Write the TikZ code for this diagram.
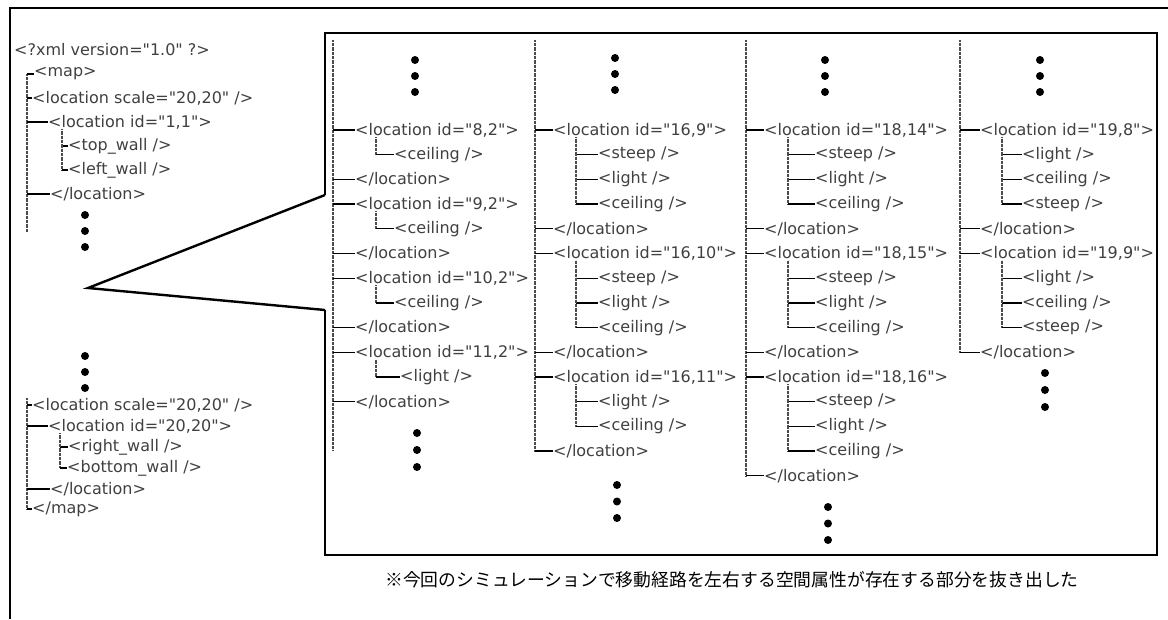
\documentclass[tikz,border=0pt]{standalone}
\usepackage{fontspec}
\newfontfamily\tagfont{DejaVu Sans}
\newfontfamily\jpfont{Noto Sans CJK JP}
\tikzset{
  tag/.style={font={\tagfont\fontsize{16}{18}\selectfont}, anchor=west, inner sep=0pt, text=black!75},
  vline/.style={line width=1.2pt, black!70, dash pattern=on 0.8pt off 0.5pt},
  branch/.style={line width=1.3pt, black},
  bigdot/.style={circle, fill=black, inner sep=0pt, minimum size=8pt},
  frame/.style={line width=2.4pt, black},
  caption/.style={font={\jpfont\fontsize{17.8}{20}\selectfont}, anchor=west, inner sep=0pt},
}
\newcommand\tg[4]{\node[tag] (#1) at (#2,{130+24.7*#3}) {#4};}
\newcommand\kid[3]{\draw[vline] (#1 |- #2.south) -- (#1 |- #3.west); \draw[branch] (#1 |- #3.west) -- (#3.west);}
\newcommand\br[2]{\draw[branch] (#1 |- #2.west) -- (#2.west);}
\newcommand\dotcol[4]{\node[bigdot] (#1a) at (#2,#3) {}; \node[bigdot] (#1b) at (#2,{#3+#4}) {}; \node[bigdot] (#1c) at (#2,{#3+2*#4}) {};}
\begin{document}
\begin{tikzpicture}[x=1pt,y=-1pt]
\useasboundingbox (0,0) rectangle (1168,619);
% outer frame
\coordinate (oBL) at (10,619);
\coordinate (oTL) at (10,8);
\coordinate (oTR) at (1168,8);
\draw[line width=1.8pt] (oBL) -- (oTL) -- (oTR);
% inner box and callout
\coordinate (bU) at (325,195);
\coordinate (bTL) at (325,33);
\coordinate (bTR) at (1157,33);
\coordinate (bBR) at (1157,555);
\coordinate (bBL) at (325,555);
\coordinate (bL) at (325,310);
\coordinate (apex) at (88,288);
\draw[frame] (bU) -- (bTL) -- (bTR) -- (bBR) -- (bBL) -- (bL);
\draw[frame] (bU) -- (apex) -- (bL);

% ---------- left top tree ----------
\node[tag] (xml) at (14,50) {<?xml version="1.0" ?>};
\node[tag] (map) at (34,74) {<map>};
\node[tag] (sc1) at (32,98) {<location scale="20,20" />};
\node[tag] (id1) at (48,122) {<location id="1,1">};
\node[tag] (tw) at (68,146) {<top\_wall />};
\node[tag] (lw) at (68,170) {<left\_wall />};
\node[tag] (el1) at (50,194) {</location>};
\coordinate (lv) at (27,232);
\draw[vline] (lv |- map.west) -- (lv);
\br{lv}{map}\br{lv}{sc1}\br{lv}{id1}\br{lv}{el1}
\coordinate (lk) at (62,0);
\kid{lk}{id1}{tw}\kid{lk}{id1}{lw}
\dotcol{ld1}{85}{215}{16}

% ---------- left bottom tree ----------
\dotcol{ld2}{85}{356}{16}
\node[tag] (sc2) at (32,405) {<location scale="20,20" />};
\node[tag] (id2) at (48,426) {<location id="20,20">};
\node[tag] (rw) at (68,447) {<right\_wall />};
\node[tag] (bw) at (67,468) {<bottom\_wall />};
\node[tag] (el2) at (50,489) {</location>};
\node[tag] (emap) at (32,509) {</map>};
\coordinate (lv2) at (27,398);
\draw[vline] (lv2) -- (lv2 |- emap.west);
\br{lv2}{sc2}\br{lv2}{id2}\br{lv2}{el2}\br{lv2}{emap}
\coordinate (lk2) at (60,0);
\kid{lk2}{id2}{rw}\kid{lk2}{id2}{bw}

% ---------- column 1 ----------
\coordinate (v1) at (333,40);
\coordinate (v1e) at (333,450);
\draw[vline] (v1) -- (v1e);
\dotcol{t1}{415}{60}{16}
\tg{a0}{355}{0}{<location id="8,2">}
\tg{a1}{394}{1}{<ceiling />}
\tg{a2}{355}{2}{</location>}
\tg{a3}{355}{3}{<location id="9,2">}
\tg{a4}{394}{4}{<ceiling />}
\tg{a5}{355}{5}{</location>}
\tg{a6}{355}{6}{<location id="10,2">}
\tg{a7}{394}{7}{<ceiling />}
\tg{a8}{355}{8}{</location>}
\tg{a9}{355}{9}{<location id="11,2">}
\tg{a10}{400}{10}{<light />}
\tg{a11}{355}{11}{</location>}
\foreach \n in {a0,a2,a3,a5,a6,a8,a9,a11} {\br{v1}{\n}}
\coordinate (k1) at (376,0);
\kid{k1}{a0}{a1}\kid{k1}{a3}{a4}\kid{k1}{a6}{a7}\kid{k1}{a9}{a10}
\dotcol{u1}{417}{433}{17}

% ---------- column 2 ----------
\coordinate (v2) at (535,40);
\dotcol{t2}{615}{58}{16}
\tg{b0}{553}{0}{<location id="16,9">}
\tg{b1}{598}{1}{<steep />}
\tg{b2}{598}{2}{<light />}
\tg{b3}{598}{3}{<ceiling />}
\tg{b4}{553}{4}{</location>}
\tg{b5}{553}{5}{<location id="16,10">}
\tg{b6}{598}{6}{<steep />}
\tg{b7}{598}{7}{<light />}
\tg{b8}{598}{8}{<ceiling />}
\tg{b9}{553}{9}{</location>}
\tg{b10}{553}{10}{<location id="16,11">}
\tg{b11}{598}{11}{<light />}
\tg{b12}{598}{12}{<ceiling />}
\tg{b13}{553}{13}{</location>}
\draw[vline] (v2) -- (v2 |- b13.west);
\foreach \n in {b0,b4,b5,b9,b10,b13} {\br{v2}{\n}}
\coordinate (k2) at (576,0);
\kid{k2}{b0}{b1}\kid{k2}{b0}{b2}\kid{k2}{b0}{b3}
\kid{k2}{b5}{b6}\kid{k2}{b5}{b7}\kid{k2}{b5}{b8}
\kid{k2}{b10}{b11}\kid{k2}{b10}{b12}
\dotcol{u2}{617}{485}{16.5}

% ---------- column 3 ----------
\coordinate (v3) at (746,40);
\dotcol{t3}{825}{60}{16}
\tg{c0}{764}{0}{<location id="18,14">}
\tg{c1}{815}{1}{<steep />}
\tg{c2}{815}{2}{<light />}
\tg{c3}{815}{3}{<ceiling />}
\tg{c4}{764}{4}{</location>}
\tg{c5}{764}{5}{<location id="18,15">}
\tg{c6}{815}{6}{<steep />}
\tg{c7}{815}{7}{<light />}
\tg{c8}{815}{8}{<ceiling />}
\tg{c9}{764}{9}{</location>}
\tg{c10}{764}{10}{<location id="18,16">}
\tg{c11}{815}{11}{<steep />}
\tg{c12}{815}{12}{<light />}
\tg{c13}{815}{13}{<ceiling />}
\tg{c14}{764}{14}{</location>}
\draw[vline] (v3) -- (v3 |- c14.west);
\foreach \n in {c0,c4,c5,c9,c10,c14} {\br{v3}{\n}}
\coordinate (k3) at (788,0);
\kid{k3}{c0}{c1}\kid{k3}{c0}{c2}\kid{k3}{c0}{c3}
\kid{k3}{c5}{c6}\kid{k3}{c5}{c7}\kid{k3}{c5}{c8}
\kid{k3}{c10}{c11}\kid{k3}{c10}{c12}\kid{k3}{c10}{c13}
\dotcol{u3}{828}{507}{16.5}

% ---------- column 4 ----------
\coordinate (v4) at (960,40);
\dotcol{t4}{1040}{60}{16}
\tg{d0}{980}{0}{<location id="19,8">}
\tg{d1}{1022}{1}{<light />}
\tg{d2}{1022}{2}{<ceiling />}
\tg{d3}{1022}{3}{<steep />}
\tg{d4}{980}{4}{</location>}
\tg{d5}{980}{5}{<location id="19,9">}
\tg{d6}{1022}{6}{<light />}
\tg{d7}{1022}{7}{<ceiling />}
\tg{d8}{1022}{8}{<steep />}
\tg{d9}{980}{9}{</location>}
\draw[vline] (v4) -- (v4 |- d9.west);
\foreach \n in {d0,d4,d5,d9} {\br{v4}{\n}}
\coordinate (k4) at (1002,0);
\kid{k4}{d0}{d1}\kid{k4}{d0}{d2}\kid{k4}{d0}{d3}
\kid{k4}{d5}{d6}\kid{k4}{d5}{d7}\kid{k4}{d5}{d8}
\dotcol{u4}{1045}{373}{17}

% caption
\node[caption] (cap) at (385,580) {※今回のシミュレーションで移動経路を左右する空間属性が存在する部分を抜き出した};
\end{tikzpicture}
\end{document}
